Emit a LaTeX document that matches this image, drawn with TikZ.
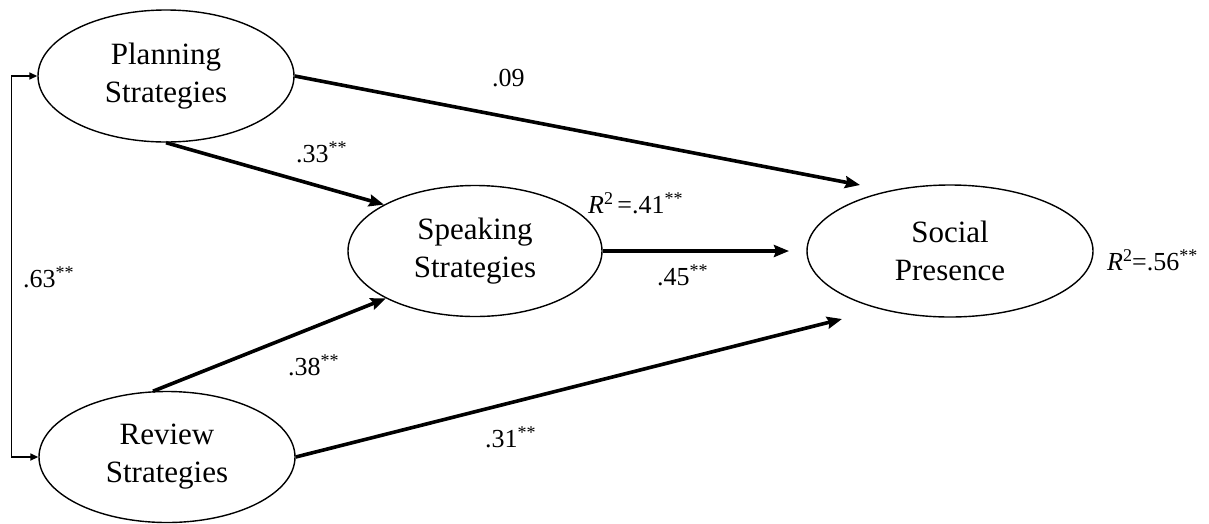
\documentclass[tikz,border=0pt]{standalone}
\usepackage{fontspec}
\setmainfont{Liberation Serif}
\usetikzlibrary{shapes.geometric,arrows.meta}
\newcommand{\supstar}[1]{\raisebox{9pt}{\fontsize{18}{18}\selectfont #1}}
\begin{document}
\begin{tikzpicture}[x=1pt,y=-1pt,
  latent/.style={draw, ellipse, line width=1.4pt, inner sep=0pt, align=center,
    font=\fontsize{31}{38}\selectfont},
  pathline/.style={line width=3.6pt, -{Stealth[length=15pt,width=12pt,inset=2pt]}},
  corrline/.style={line width=1.6pt, {Triangle[length=8pt,width=7pt]}-{Triangle[length=8pt,width=7pt]}},
  lab/.style={anchor=base west, inner sep=0pt, font=\fontsize{26}{30}\selectfont}]
\useasboundingbox (0,0) rectangle (1209,523);
% latent variables
\node[latent, minimum width=256pt, minimum height=132pt] (plan) at (166,76) {Planning\\Strategies};
\node[latent, minimum width=256pt, minimum height=131pt] (rev) at (167,457) {Review\\Strategies};
\node[latent, minimum width=254pt, minimum height=131pt] (speak) at (475,251) {Speaking\\Strategies};
\node[latent, minimum width=286pt, minimum height=132pt] (soc) at (950,251) {Social\\Presence};
% free ends of paths near Social Presence
\coordinate (socA) at (860,185);
\coordinate (socB) at (789,251);
\coordinate (socC) at (842,319);
% paths
\draw[pathline] (plan.east) -- (socA);
\draw[pathline] (plan.south) -- (speak.153);
\draw[pathline] (rev.102) -- (speak.208);
\draw[pathline] (rev.east) -- (socC);
\draw[pathline] (speak.east) -- (socB);
% correlation
\draw[corrline] (plan.west) -- ++(-26,0) |- (rev.west);
% labels
\node[lab] (l09) at (492,86) {.09};
\node[lab] (l33) at (296,162) {.33\supstar{**}};
\node[lab] (l38) at (288,375) {.38\supstar{**}};
\node[lab] (l31) at (485,447) {.31\supstar{**}};
\node[lab] (l45) at (657,285) {.45\supstar{**}};
\node[lab] (l63) at (23,287) {.63\supstar{**}};
\node[lab] (r41) at (588,213) {\textit{R}\supstar{2}\,=.41\supstar{**}};
\node[lab] (r56) at (1107,270) {\textit{R}\supstar{2}=.56\supstar{**}};
\end{tikzpicture}
\end{document}
